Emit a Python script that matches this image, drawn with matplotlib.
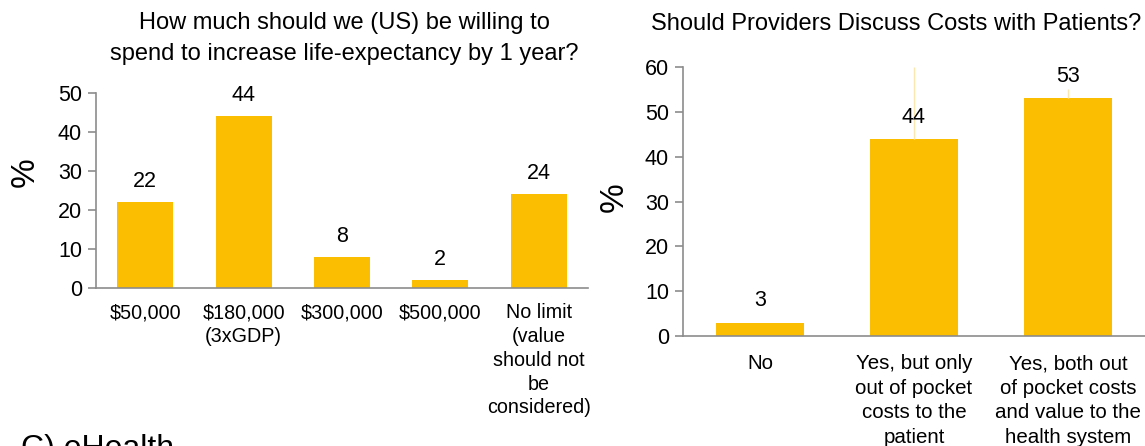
import matplotlib.pyplot as plt
import numpy as np

plt.rcParams['font.family'] = ['Liberation Sans', 'DejaVu Sans']

# Данные
spend_labels = ['$50,000', '$180,000\n(3xGDP)', '$300,000', '$500,000',
                'No limit\n(value\nshould not\nbe\nconsidered)']
spend_values = [22, 44, 8, 2, 24]

discuss_labels = ['No', 'Yes, but only\nout of pocket\ncosts to the\npatient',
                  'Yes, both out\nof pocket costs\nand value to the\nhealth system']
discuss_values = [3, 44, 53]
discuss_err_top = [3, 60, 55]

bar_color = '#FBBE00'
spine_color = '#8c8c8c'

fig = plt.figure(figsize=(11.45, 4.46), dpi=100)


def style_axes(ax, xpad):
    for s in ['top', 'right']:
        ax.spines[s].set_visible(False)
    for s in ['left', 'bottom']:
        ax.spines[s].set_color(spine_color)
        ax.spines[s].set_linewidth(1.2)
    ax.tick_params(axis='y', color=spine_color, length=6, width=1.2, labelsize=15.5, pad=4)
    ax.tick_params(axis='x', length=0, pad=xpad)


# Левый график
ax1 = fig.add_axes([0.0838, 0.3543, 0.4297, 0.4372])
x1 = np.arange(len(spend_values))
ax1.bar(x1, spend_values, width=0.57, color=bar_color)
for xi, v in zip(x1, spend_values):
    ax1.text(xi, v + 2.6, str(v), ha='center', va='bottom', fontsize=15.5)
ax1.set_xlim(-0.5, len(spend_values) - 0.5)
ax1.set_ylim(0, 50)
ax1.set_yticks(range(0, 51, 10))
ax1.set_xticks(x1)
ax1.set_xticklabels(spend_labels, fontsize=14.2, linespacing=1.32, va='top')
ax1.set_ylabel('%', fontsize=24)
ax1.yaxis.set_label_coords(-0.112, 0.595)
style_axes(ax1, 11)

# Правый график
ax2 = fig.add_axes([0.5965, 0.2466, 0.4035, 0.6031])
x2 = np.arange(len(discuss_values))
ax2.vlines(x2, discuss_values, discuss_err_top, color='#fbe7b0', linewidth=1)
ax2.bar(x2, discuss_values, width=0.57, color=bar_color)
for xi, v in zip(x2, discuss_values):
    ax2.text(xi, v + 2.5, str(v), ha='center', va='bottom', fontsize=15.5)
ax2.set_xlim(-0.5, len(discuss_values) - 0.5)
ax2.set_ylim(0, 60)
ax2.set_yticks(range(0, 61, 10))
ax2.set_xticks(x2)
ax2.set_xticklabels(discuss_labels, fontsize=14.8, linespacing=1.37, va='top')
ax2.set_ylabel('%', fontsize=24)
ax2.yaxis.set_label_coords(-0.115, 0.517)
style_axes(ax2, 13)

# Заголовки
fig.text(0.301, 0.914, 'How much should we (US) be willing to\nspend to increase life-expectancy by 1 year?',
         ha='center', va='center', fontsize=17, linespacing=1.55)
fig.text(0.783, 0.947, 'Should Providers Discuss Costs with Patients?',
         ha='center', va='center', fontsize=17)
fig.text(0.018, -0.025, 'C) eHealth', ha='left', va='baseline', fontsize=23)

fig.savefig('out.png', dpi=100)
